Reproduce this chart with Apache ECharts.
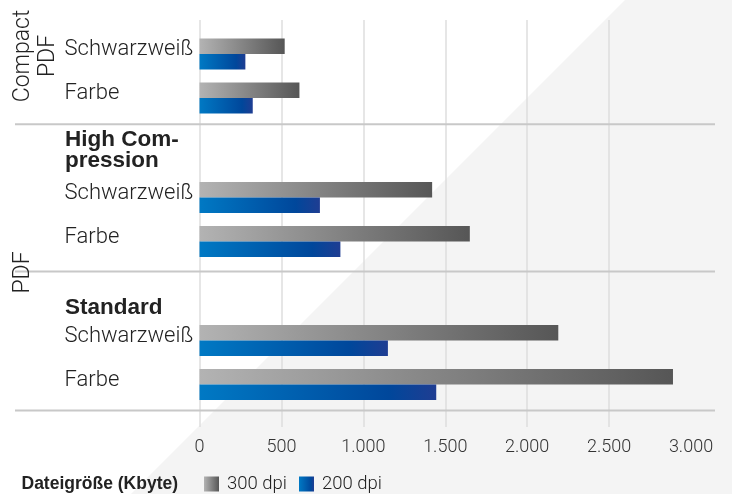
<!DOCTYPE html>
<html><head><meta charset="utf-8">
<script src="https://cdn.jsdelivr.net/npm/echarts@6/dist/echarts.min.js"></script>
<style>html,body{margin:0;padding:0;background:#fff}#c{width:732px;height:494px}</style>
</head><body><div id="c"></div>
<script>
// ---- data ----
const categories = ['Schwarzweiß', 'Farbe'];
const groupLabels = ['Compact\nPDF', 'PDF'];
const sectionHeaders = ['High Com-\npression', 'Standard'];
const seriesNames = ['300 dpi', '200 dpi'];
const compact300 = [520, 610];
const compact200 = [280, 325];
const high300 = [1420, 1650];
const high200 = [735, 860];
const standard300 = [2190, 2890];
const standard200 = [1150, 1445];
const xMin = 0, xMax = 3000, xStep = 500;
const axisTitle = 'Dateigröße (Kbyte)';

// ---- styling ----
const FONT = 'Roboto, "Liberation Sans", Arial, sans-serif';
const BFONT = '"Liberation Sans", Arial, sans-serif';
const LW = 300;
const TXT = '#222';
const grayGrad = () => new echarts.graphic.LinearGradient(0, 0, 1, 0, [
  {offset: 0, color: '#b3b3b3'}, {offset: 1, color: '#565656'}]);
const blueGrad = () => new echarts.graphic.LinearGradient(0, 0, 1, 0, [
  {offset: 0, color: '#0079c4'}, {offset: 0.8, color: '#00479b'}, {offset: 1, color: '#1f3d92'}]);

const sections300 = [compact300, high300, standard300];
const sections200 = [compact200, high200, standard200];
const gridTops = [32, 175.5, 318.5];
const L = 199.5, R = 41;

const fmt = v => String(v).replace(/\B(?=(\d{3})+(?!\d))/g, '.');
const nTicks = Math.round((xMax - xMin) / xStep) + 1;
const splitColors = [];
for (let i = 0; i < nTicks; i++) splitColors.push(i === nTicks - 1 ? 'rgba(0,0,0,0)' : '#dedede');

const grids = [{left: L, right: R, top: 20, bottom: 67}];
const xAxes = [{
  gridIndex: 0, type: 'value', min: xMin, max: xMax, interval: xStep,
  axisLine: {show: false}, axisTick: {show: false},
  splitLine: {show: true, lineStyle: {color: splitColors, width: 1.5}},
  axisLabel: {formatter: fmt, fontSize: 18, color: '#333', fontFamily: FONT, fontWeight: LW, margin: 11}
}];
const yAxes = [{gridIndex: 0, type: 'category', data: [''], show: false}];
const series = [];
gridTops.forEach((t, i) => {
  grids.push({left: L, right: R, top: t, height: 88});
  xAxes.push({gridIndex: i + 1, type: 'value', min: xMin, max: xMax, show: false, splitLine: {show: false}});
  yAxes.push({
    gridIndex: i + 1, type: 'category', data: categories, inverse: true,
    axisLine: {show: false}, axisTick: {show: false}, splitLine: {show: false},
    axisLabel: {align: 'left', verticalAlign: 'bottom', lineHeight: 8.5, margin: 135,
      fontSize: 22, color: TXT, fontFamily: FONT, fontWeight: LW}
  });
  series.push({
    type: 'bar', name: seriesNames[0], xAxisIndex: i + 1, yAxisIndex: i + 1,
    data: sections300[i], barWidth: 15.5, barGap: '0%', itemStyle: {color: grayGrad()}
  });
  series.push({
    type: 'bar', name: seriesNames[1], xAxisIndex: i + 1, yAxisIndex: i + 1,
    data: sections200[i], barWidth: 15.5, barGap: '0%', itemStyle: {color: blueGrad()}
  });
});

const textEl = (x, y, text, opts) => ({
  type: 'text', x: x, y: y, rotation: opts.rotation || 0, z: 10,
  style: Object.assign({
    text: text, fill: TXT, fontFamily: FONT, fontWeight: LW, fontSize: 22,
    textAlign: 'left', textVerticalAlign: 'middle', align: 'left', verticalAlign: 'middle'
  }, opts.style || {})
});
const sepLine = y => ({type: 'line', z: 5, shape: {x1: 15, y1: y, x2: 715, y2: y},
  style: {stroke: '#c8c8c8', lineWidth: 2}});

const chart = echarts.init(document.getElementById('c'), null, {renderer: 'canvas'});
chart.setOption({
  backgroundColor: '#ffffff',
  animation: false,
  grid: grids, xAxis: xAxes, yAxis: yAxes, series: series,
  legend: {
    data: seriesNames, left: 199, top: 469.5, icon: 'rect', itemWidth: 15, itemHeight: 15, itemGap: 12,
    textStyle: {fontSize: 18.5, color: TXT, fontFamily: FONT, fontWeight: LW, padding: [0, 0, 0, 3]}
  },
  graphic: [
    {type: 'polygon', z: -1, silent: true, shape: {points: [[625, 0], [732, 0], [732, 494], [131, 494]]},
     style: {fill: '#f4f4f4'}},
    sepLine(124.3), sepLine(271.5), sepLine(410.5),
    textEl(35.5, 56, groupLabels[0], {rotation: Math.PI / 2,
      style: {textAlign: 'center', align: 'center', lineHeight: 25.5, fontSize: 23}}),
    textEl(23.5, 272.5, groupLabels[1], {rotation: Math.PI / 2,
      style: {textAlign: 'center', align: 'center', fontSize: 23}}),
    textEl(65, 150, sectionHeaders[0], {style: {fontFamily: BFONT, fontWeight: 'bold', fontSize: 22.5, lineHeight: 21}}),
    textEl(65, 308, sectionHeaders[1], {style: {fontFamily: BFONT, fontWeight: 'bold', fontSize: 22.5}}),
    textEl(21.5, 484, axisTitle, {style: {fontFamily: BFONT, fontWeight: 'bold', fontSize: 17.5}})
  ]
});
</script></body></html>
